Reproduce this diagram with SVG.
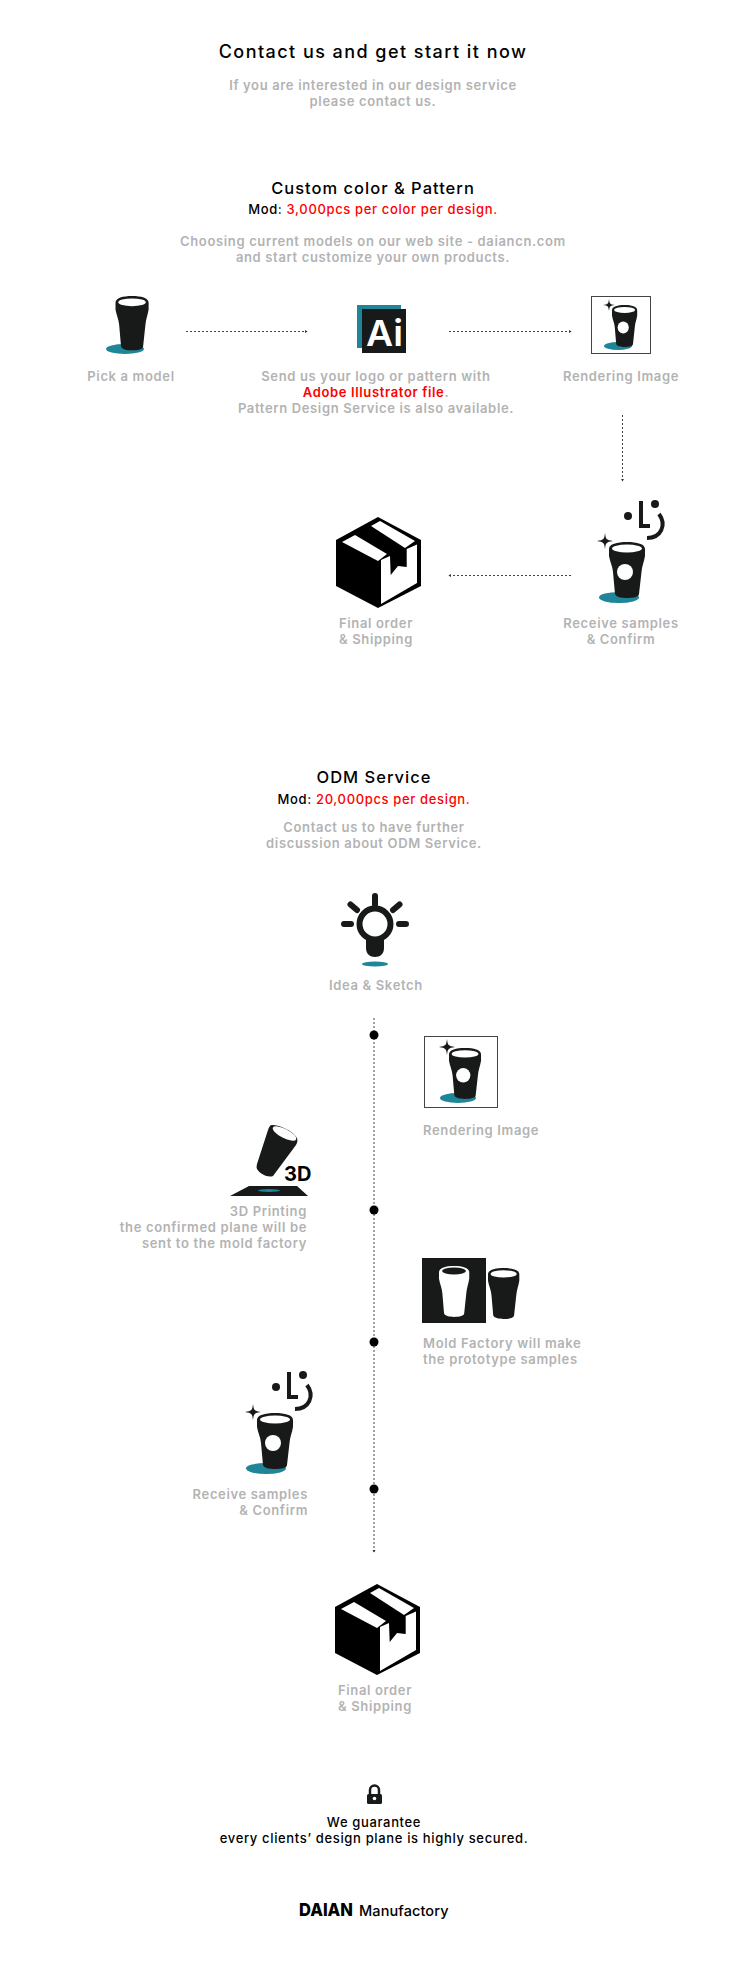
<svg xmlns="http://www.w3.org/2000/svg" width="750" height="1964" viewBox="0 0 750 1964">
<style>
text{font-family:"Inter","Liberation Sans",Arial,sans-serif;letter-spacing:.6px}
.t{font-size:18px;fill:#000;text-anchor:middle;font-weight:500;letter-spacing:1.45px}
.h{font-size:16.5px;fill:#000;text-anchor:middle;font-weight:500;letter-spacing:1px}
.m{font-size:13px;fill:#000;text-anchor:middle;font-weight:500;letter-spacing:.65px}
.g{font-size:13px;fill:#b3b3b3;text-anchor:middle;font-weight:600;letter-spacing:.65px}
.gl{text-anchor:start}.gr{text-anchor:end}
.r{fill:#f00}
.c{fill:none;stroke:#444;stroke-width:1;stroke-dasharray:2 2}
.k{fill:#181a1a}.w{fill:#fff}.teal{fill:#1f8599}
.face{fill:none;stroke:#181a1a;stroke-width:4}
</style>
<defs>
<marker id="ah" markerWidth="3" markerHeight="4" refX="2" refY="2" orient="auto" markerUnits="userSpaceOnUse"><path d="M0 .5L2.500 2L0 3.500Z" fill="#333"/></marker>
<path id="cupshape" d="M0 7C0 2 8 0 18 0C28 0 36 2 36 7L36 14C35 20 33 24 32.500 30L30 52C30 55 24 56 18 56C12 56 7 55 6 52L4 30C3.500 24 1 20 0 14Z"/>
<g id="cup"><use href="#cupshape" class="k"/><ellipse cx="18" cy="6.500" rx="15" ry="4" class="w"/></g>
<g id="cupdot"><use href="#cup"/><circle cx="16" cy="30" r="8" class="w"/></g>
<path id="star" d="M0 -8C0.800 -2 1 -1 8 0C1 1 0.800 2 0 8C-0.800 2 -1 1 -8 0C-1 -1 -0.800 -2 0 -8Z" class="k"/>
<g id="parcel">
<path d="M378 517L421 540L421 586L378 608L336 586L336 540Z" fill="#000"/>
<path d="M381 560L390 556L390.700 575L398 566L406.700 567L406.700 549L417 544.500L417 583L381 604Z" class="w"/>
<path d="M342 542L355 535L387 554L378 561Z" class="w"/>
<path d="M371 526L380 521L415 541L405 548Z" class="w"/>
</g>
<g id="face">
<circle cx="628" cy="516" r="4" class="k"/><circle cx="655" cy="504" r="4" class="k"/>
<path d="M641 501V526H650" class="face"/>
<path d="M659 514C667 525 661 538 647 538" class="face"/>
</g>
</defs>

<g id="header">
<text class="t" x="373" y="58">Contact us and get start it now</text>
<text class="g" x="373" y="90">If you are interested in our design service</text>
<text class="g" x="373" y="106">please contact us.</text>
</g>
<g id="custom-heading">
<text class="h" x="373" y="194">Custom color &amp; Pattern</text>
<text class="m" x="373" y="214">Mod: <tspan class="r">3,000pcs per color per design.</tspan></text>
<text class="g" x="373" y="246">Choosing current models on our web site - daiancn.com</text>
<text class="g" x="373" y="262">and start customize your own products.</text>
</g>

<g id="connectors">
<line class="c" x1="186" y1="331.500" x2="307" y2="331.500" marker-end="url(#ah)"/>
<line class="c" x1="449" y1="331.500" x2="571" y2="331.500" marker-end="url(#ah)"/>
<line class="c" x1="622.500" y1="415" x2="622.500" y2="481" marker-end="url(#ah)"/>
<line class="c" x1="571" y1="575.500" x2="449" y2="575.500" marker-end="url(#ah)"/>
<line class="c" x1="374" y1="1018" x2="374" y2="1552" marker-end="url(#ah)"/>
</g>

<g id="pick-model">
<ellipse cx="125" cy="349" rx="19" ry="5" class="teal"/>
<use href="#cup" transform="translate(115.500 296) scale(.92 .97)"/>
<text class="g" x="131" y="381">Pick a model</text>
</g>
<g id="send-logo">
<rect x="357" y="305" width="44" height="43" class="teal"/>
<rect x="362" y="309" width="44" height="44" class="k"/>
<text x="366" y="346" font-size="36" font-weight="600" fill="#fff" style="letter-spacing:0" textLength="37" lengthAdjust="spacingAndGlyphs">Ai</text>
<text class="g" x="376" y="381">Send us your logo or pattern with</text>
<text class="g" x="376" y="397"><tspan class="r">Adobe Illustrator file</tspan>.</text>
<text class="g" x="376" y="413">Pattern Design Service is also available.</text>
</g>
<g id="rendering-1">
<rect x="591.500" y="296.500" width="59" height="57" fill="#fff" stroke="#444"/>
<ellipse cx="618" cy="346" rx="14" ry="4" class="teal"/>
<use href="#cupdot" transform="translate(612 305) scale(.70 .75)"/>
<use href="#star" transform="translate(609 305) scale(.75)"/>
<text class="g" x="621" y="381">Rendering Image</text>
</g>
<g id="samples-1">
<use href="#face"/>
<ellipse cx="619" cy="597.500" rx="20" ry="5.500" class="teal"/>
<use href="#cupdot" transform="translate(609 542)"/>
<use href="#star" transform="translate(605 541)"/>
<text class="g" x="621" y="628">Receive samples</text>
<text class="g" x="621" y="644">&amp; Confirm</text>
</g>
<g id="final-1">
<use href="#parcel"/>
<text class="g" x="376" y="628">Final order</text>
<text class="g" x="376" y="644">&amp; Shipping</text>
</g>

<g id="odm-heading">
<text class="h" x="374" y="783">ODM Service</text>
<text class="m" x="374" y="804">Mod: <tspan class="r">20,000pcs per design.</tspan></text>
<text class="g" x="374" y="832">Contact us to have further</text>
<text class="g" x="374" y="848">discussion about ODM Service.</text>
</g>
<g id="idea">
<g fill="none" stroke="#181a1a" stroke-width="6" stroke-linecap="round">
<circle cx="375" cy="924" r="15.500"/>
<path d="M375 896V904.500M350.500 904.500L357 910M399.500 904.500L393 910M344 924H351M399 924H406"/>
</g>
<path d="M366 937H384V948C384 954 380 957 375 957C370 957 366 954 366 948Z" class="k"/>
<ellipse cx="375" cy="964" rx="13" ry="2.500" class="teal"/>
<text class="g" x="376" y="990">Idea &amp; Sketch</text>
</g>
<g id="timeline-dots" fill="#000">
<circle cx="374" cy="1035" r="4.500"/><circle cx="374" cy="1210" r="4.500"/><circle cx="374" cy="1342" r="4.500"/><circle cx="374" cy="1489" r="4.500"/>
</g>
<g id="rendering-2">
<rect x="424.500" y="1036.500" width="73" height="71" fill="#fff" stroke="#444"/>
<ellipse cx="458" cy="1098" rx="18" ry="5" class="teal"/>
<use href="#cupdot" transform="translate(449 1048) scale(.89 .91)"/>
<use href="#star" transform="translate(447 1047)"/>
<text class="g gl" x="423" y="1135">Rendering Image</text>
</g>
<g id="printing">
<path d="M272 1125C280 1125 293 1131 297 1138C298 1141 297 1143 296 1145L273 1176C268 1178 260 1174 257 1169C256 1167 257 1165 257 1164L268 1130C269 1127 270 1125 272 1125Z" class="k"/>
<ellipse cx="284.500" cy="1133.500" rx="13" ry="4.500" transform="rotate(27 284.500 1133.500)" class="w"/>
<text x="284" y="1181" font-size="20" font-weight="700" fill="#000" style="letter-spacing:0">3D</text>
<path d="M249 1186H297L308 1196H230Z" class="k"/>
<ellipse cx="269" cy="1190.500" rx="11" ry="1.500" class="teal"/>
<text class="g gr" x="307" y="1216">3D Printing</text>
<text class="g gr" x="307" y="1232">the confirmed plane will be</text>
<text class="g gr" x="307" y="1248">sent to the mold factory</text>
</g>
<g id="mold">
<rect x="422" y="1258" width="64" height="65" class="k"/>
<use href="#cupshape" class="w" transform="translate(439 1266) scale(.84 .91)"/>
<ellipse cx="454" cy="1271" rx="12" ry="3.500" class="k"/>
<use href="#cup" transform="translate(488 1268) scale(.87 .91)"/>
<text class="g gl" x="423" y="1348">Mold Factory will make</text>
<text class="g gl" x="423" y="1364">the prototype samples</text>
</g>
<g id="samples-2">
<use href="#face" transform="translate(-352 871)"/>
<ellipse cx="266" cy="1468.500" rx="20" ry="5.500" class="teal"/>
<use href="#cupdot" transform="translate(257 1413)"/>
<use href="#star" transform="translate(253 1412)"/>
<text class="g gr" x="308" y="1499">Receive samples</text>
<text class="g gr" x="308" y="1515">&amp; Confirm</text>
</g>
<g id="final-2">
<use href="#parcel" transform="translate(-1 1067)"/>
<text class="g" x="375" y="1695">Final order</text>
<text class="g" x="375" y="1711">&amp; Shipping</text>
</g>
<g id="guarantee">
<path d="M370 1794V1790A4.500 4.500 0 0 1 379 1790V1794" fill="none" stroke="#181a1a" stroke-width="2.500"/>
<rect x="367" y="1794" width="15" height="10" rx="1.500" class="k"/>
<circle cx="374.500" cy="1798.500" r="1.800" class="w"/>
<text class="m" x="374" y="1827">We guarantee</text>
<text class="m" x="374" y="1843">every clients’ design plane is highly secured.</text>
</g>
<g id="brand">
<text x="299" y="1916" font-size="18" font-weight="800" fill="#000" textLength="54" lengthAdjust="spacingAndGlyphs" style="letter-spacing:0">DAIAN</text>
<text x="359" y="1916" font-size="14.500" font-weight="500" fill="#000" style="letter-spacing:.1px">Manufactory</text>
</g>
</svg>
